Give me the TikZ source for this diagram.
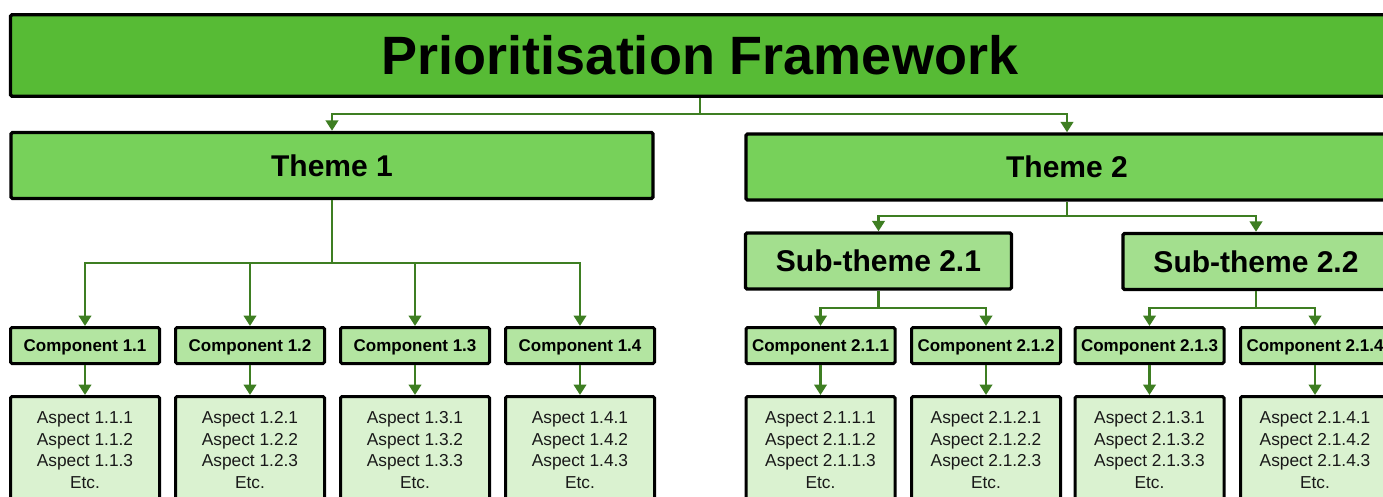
\documentclass[tikz,border=0pt]{standalone}
\usepackage{fontspec}
\setmainfont{Liberation Sans}
\usetikzlibrary{arrows.meta}

\definecolor{titlefill}{HTML}{57BB35}
\definecolor{themefill}{HTML}{77D15A}
\definecolor{subfill}{HTML}{A3DF8E}
\definecolor{compfill}{HTML}{B3E5A1}
\definecolor{aspectfill}{HTML}{DAF2D0}
\definecolor{linkgreen}{HTML}{3E7E22}

\tikzset{
  box/.style={draw=black, line width=3.4pt, rounded corners=1.5pt, inner sep=0pt},
  titlebox/.style={box, fill=titlefill, minimum width=1379pt, minimum height=81.5pt,
    font=\fontsize{54}{60}\selectfont\bfseries},
  themebox/.style={box, fill=themefill, minimum width=642pt, minimum height=66pt,
    font=\fontsize{30}{36}\selectfont\bfseries},
  subbox/.style={box, fill=subfill, minimum width=266pt, minimum height=56pt,
    font=\fontsize{30}{36}\selectfont\bfseries},
  compbox/.style={box, line width=3pt, fill=compfill, minimum width=149pt, minimum height=36pt,
    text height=12.2pt, text depth=0pt, font=\fontsize{17}{20}\selectfont\bfseries},
  aspectbox/.style={box, line width=3pt, fill=aspectfill, minimum width=149pt,
    minimum height=125pt, anchor=north},
  aspecttext/.style={anchor=north, inner sep=0pt, align=center, text=black!90,
    font=\fontsize{17.3}{21.6}\selectfont},
  link/.style={draw=linkgreen, line width=2.8pt},
  arrowlink/.style={link, -{Triangle[width=12.5pt,length=10.5pt]}},
}

\begin{document}
\begin{tikzpicture}[x=1pt, y=-1pt]
  \useasboundingbox (0,0) rectangle (1383,496);
  \clip (0,0) rectangle (1383,496);

  % top level
  \node[titlebox] (title) at (700,55.5) {Prioritisation Framework};

  % themes
  \node[themebox] (t1) at (332,165.5) {Theme 1};
  \node[themebox] (t2) at (1067,167) {Theme 2};

  % sub-themes
  \node[subbox] (s21) at (878.5,261) {Sub-theme 2.1};
  \node[subbox] (s22) at (1256,261.5) {Sub-theme 2.2};

  % components with their aspect lists
  \foreach \id/\x/\lab in {11/85/1.1, 12/250/1.2, 13/415/1.3, 14/580/1.4,
                          211/820.5/2.1.1, 212/986/2.1.2, 213/1149.5/2.1.3, 214/1315/2.1.4}{
    \node[compbox] (c\id) at (\x,345.5) {Component \lab};
    \node[aspectbox] (a\id) at (\x,395) {};
    \node[aspecttext] (at\id) at ([yshift=-16.5pt]a\id.north)
      {Aspect \lab.1\\Aspect \lab.2\\Aspect \lab.3\\Etc.};
    \draw[arrowlink] (c\id.south) -- (a\id.north);
  }

  % branch points
  \coordinate (b0) at (700,114);
  \coordinate (b1) at (332,263);
  \coordinate (b2) at (1067,216);
  \coordinate (b21) at (878.5,308);
  \coordinate (b22) at (1256,308);

  % title to themes
  \draw[link] (title.south) -- (b0);
  \draw[arrowlink] (b0) -| (t1.north);
  \draw[arrowlink] (b0) -| (t2.north);

  % theme 1 to its components
  \draw[link] (t1.south) -- (b1);
  \foreach \c in {c11,c12,c13,c14}
    \draw[arrowlink] (b1) -| (\c.north);

  % theme 2 to its sub-themes
  \draw[link] (t2.south) -- (b2);
  \draw[arrowlink] (b2) -| (s21.north);
  \draw[arrowlink] (b2) -| (s22.north);

  % sub-themes to components
  \draw[link] (s21.south) -- (b21);
  \draw[arrowlink] (b21) -| (c211.north);
  \draw[arrowlink] (b21) -| (c212.north);
  \draw[link] (s22.south) -- (b22);
  \draw[arrowlink] (b22) -| (c213.north);
  \draw[arrowlink] (b22) -| (c214.north);
\end{tikzpicture}
\end{document}
